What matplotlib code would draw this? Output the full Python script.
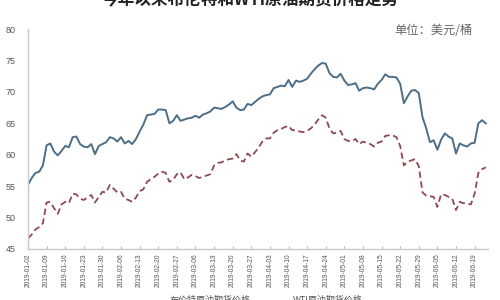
import numpy as np
import matplotlib.pyplot as plt

plt.rcParams['font.family'] = ['Noto Sans CJK SC', 'DejaVu Sans']

# weekly date labels (one every 5 trading days)
tick_labels = [
    '2019-01-02', '2019-01-09', '2019-01-16', '2019-01-23', '2019-01-30',
    '2019-02-06', '2019-02-13', '2019-02-20', '2019-02-27', '2019-03-06',
    '2019-03-13', '2019-03-20', '2019-03-27', '2019-04-03', '2019-04-10',
    '2019-04-17', '2019-04-24', '2019-05-01', '2019-05-08', '2019-05-15',
    '2019-05-22', '2019-05-29', '2019-06-05', '2019-06-12', '2019-06-19',
]

# daily prices, USD/barrel
brent = [
    55.2, 56.3, 57.1, 57.3, 58.3, 61.5, 61.8, 60.5, 59.9, 60.6,
    61.4, 61.2, 62.8, 62.9, 61.7, 61.3, 61.2, 61.7, 60.1, 61.4,
    61.7, 62.0, 62.8, 62.6, 62.1, 62.8, 61.8, 62.2, 61.7, 62.5,
    63.7, 64.8, 66.3, 66.4, 66.5, 67.2, 67.2, 67.1, 65.0, 65.4,
    66.3, 65.4, 65.6, 65.8, 65.9, 66.2, 65.9, 66.4, 66.6, 66.9,
    67.5, 67.4, 67.3, 67.6, 68.0, 68.5, 67.5, 67.1, 67.2, 68.1,
    67.9, 68.4, 68.9, 69.3, 69.5, 69.6, 70.6, 70.8, 71.0, 70.9,
    71.9, 70.8, 71.8, 71.6, 71.8, 72.1, 72.9, 73.6, 74.2, 74.6,
    74.5, 73.0, 72.4, 72.3, 72.9, 71.8, 71.1, 71.2, 71.4, 70.2,
    70.6, 70.7, 70.6, 70.4, 71.3, 71.9, 72.8, 72.4, 72.4, 72.3,
    71.3, 68.2, 69.3, 70.2, 70.3, 69.8, 66.0, 64.2, 62.0, 62.3,
    60.8, 62.4, 63.4, 62.9, 62.6, 60.2, 61.8, 61.5, 61.3, 61.8,
    61.9, 65.0, 65.5, 65.0,
]
wti = [
    46.7, 47.3, 48.1, 48.5, 49.1, 52.4, 52.5, 51.5, 50.6, 52.1,
    52.5, 52.3, 53.8, 53.7, 53.0, 52.8, 53.2, 53.6, 52.4, 53.3,
    54.1, 54.0, 55.2, 54.6, 54.0, 54.1, 53.0, 52.8, 52.5, 53.2,
    54.2, 54.5, 55.7, 56.1, 56.5, 57.0, 57.3, 57.1, 55.7, 56.0,
    56.9, 57.2, 56.1, 56.4, 56.8, 56.6, 56.3, 56.5, 56.7, 56.9,
    58.3, 58.7, 58.8, 59.1, 59.3, 59.4, 60.1, 59.1, 58.9, 60.2,
    59.7, 60.4, 61.2, 62.1, 62.6, 62.6, 63.5, 63.9, 64.1, 64.4,
    64.6, 63.9, 63.9, 63.7, 63.6, 63.8, 64.2, 64.8, 65.6, 66.3,
    65.9, 64.2, 63.4, 63.5, 63.8, 62.5, 62.2, 62.2, 62.5, 61.7,
    62.1, 61.9, 61.7, 61.3, 61.9, 62.1, 63.0, 63.1, 63.1, 62.8,
    61.4, 58.3, 58.9, 59.1, 59.3, 58.2, 54.0, 53.5, 53.4, 53.3,
    51.7, 53.7, 53.6, 53.3, 53.0, 51.2, 52.5, 52.3, 52.2, 52.1,
    53.8, 57.1, 57.7, 58.0,
]

x = np.arange(len(brent))

fig = plt.figure(figsize=(5, 3), dpi=100)
ax = fig.add_axes([0.056, 0.17, 0.92, 0.733])

ax.plot(x, brent, color='#4d6e87', lw=1.4, label='布伦特原油期货价格')
ax.plot(x, wti, color='#8e4a50', lw=1.3, ls=(0, (3.5, 2)), label='WTI原油期货价格')

ax.set_xlim(0, 123.6)
ax.set_ylim(45, 80)
ax.set_yticks(range(45, 81, 5))
ax.set_xticks(range(0, 121, 5))
ax.set_xticklabels(tick_labels, rotation=90, fontsize=4.8,
                   family=['Liberation Sans'], color='#555555')
for lab in ax.get_yticklabels():
    lab.set_family(['Liberation Sans'])
ax.tick_params(axis='y', length=0, pad=9, labelsize=6.5, labelcolor='#555555')
ax.tick_params(axis='x', direction='in', length=2, color='#bbbbbb', pad=3)

for s in ('top', 'right'):
    ax.spines[s].set_visible(False)
for s in ('left', 'bottom'):
    ax.spines[s].set_color('#c8c8c8')
    ax.spines[s].set_linewidth(1.0)

# title, clipped at the top like the source image
fig.text(0.5, 1.0, '今年以来布伦特和WTI原油期货价格走势', ha='center', va='center',
         fontsize=12, fontweight='bold', color='#222222')
fig.text(0.946, 0.897, '单位：美元/桶', ha='right', va='center',
         fontsize=8.8, color='#666666')

# legend text, mostly below the bottom edge in the source
fig.text(0.34, 0.013, '布伦特原油期货价格', ha='left', va='top',
         fontsize=6.5, color='#555555')
fig.text(0.586, 0.013, 'WTI原油期货价格', ha='left', va='top',
         fontsize=6.5, color='#555555')

fig.savefig('out.png', dpi=100)
